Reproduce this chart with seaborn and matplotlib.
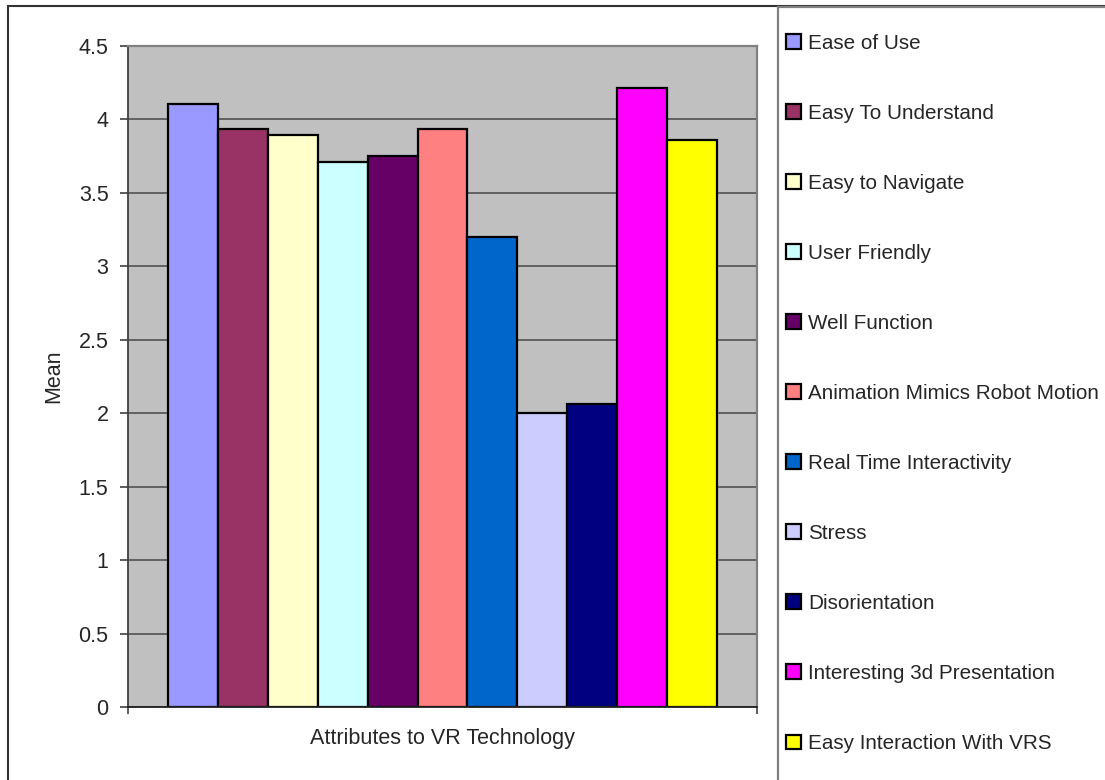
import matplotlib
matplotlib.use("Agg")
import matplotlib.pyplot as plt
from matplotlib.patches import Rectangle
import seaborn as sns
import pandas as pd

# Survey results: mean rating per attribute of the VR technology
attributes = [
    "Ease of Use",
    "Easy To Understand",
    "Easy to Navigate",
    "User Friendly",
    "Well Function",
    "Animation Mimics Robot Motion",
    "Real Time Interactivity",
    "Stress",
    "Disorientation",
    "Interesting 3d Presentation",
    "Easy Interaction With VRS",
]
means = [4.10, 3.93, 3.89, 3.71, 3.75, 3.93, 3.20, 2.00, 2.06, 4.21, 3.86]
colors = [
    "#9999FF", "#993366", "#FFFFCC", "#CCFFFF", "#660066", "#FF8080",
    "#0066CC", "#CCCCFF", "#000080", "#FF00FF", "#FFFF00",
]
y_ticks = [0, 0.5, 1, 1.5, 2, 2.5, 3, 3.5, 4, 4.5]
group_name = "Attributes to VR Technology"

df = pd.DataFrame({"group": [group_name] * len(attributes),
                   "attribute": attributes, "mean": means})

sns.set_style("white")
plt.rcParams["font.family"] = ["Liberation Sans", "DejaVu Sans"]
FS = 15.5
LEG_FS = 14.9

W, H = 1105, 780
fig = plt.figure(figsize=(W / 100, H / 100), dpi=100)
fig.patch.set_facecolor("white")

# plot area in pixel terms
left, right, top, bottom = 128, 757, 45.7, 707
ax = fig.add_axes([left / W, 1 - bottom / H, (right - left) / W, (bottom - top) / H])
ax.set_facecolor("#C0C0C0")

sns.barplot(data=df, x="group", y="mean", hue="attribute",
            hue_order=attributes, palette=colors, width=0.874,
            edgecolor="black", linewidth=1.6, saturation=1, ax=ax,
            errorbar=None, legend=True)

ax.set_ylim(0, 4.5)
ax.set_xlim(-0.5, 0.5)
ax.set_yticks(y_ticks)
ax.set_yticklabels([f"{t:g}" for t in y_ticks], fontsize=FS)
ax.set_xticks([-0.5, 0.5])
ax.set_xticklabels(["", ""])
ax.tick_params(axis="y", direction="out", length=6, width=1.2, color="#404040",
               pad=8, left=True)
ax.tick_params(axis="x", direction="out", length=5, width=1.2, color="#404040",
               bottom=True)

ax.yaxis.grid(True, color="#5a5a5a", linewidth=1.3)
ax.set_axisbelow(True)

for side in ("top", "right"):
    ax.spines[side].set_visible(True)
    ax.spines[side].set_color("#808080")
    ax.spines[side].set_linewidth(1.6)
ax.spines["left"].set_color("#404040")
ax.spines["left"].set_linewidth(1.3)
ax.spines["bottom"].set_color("#202020")
ax.spines["bottom"].set_linewidth(1.3)

ax.set_ylabel("Mean", fontsize=FS)
ax.yaxis.set_label_coords((64 - left) / (right - left), 0.5)
ax.set_xlabel(group_name, fontsize=FS)
ax.xaxis.set_label_coords(0.5, -(728 - bottom) / (bottom - top))

# legend on the right
handles, labels = ax.get_legend_handles_labels()
ax.get_legend().remove()
leg = fig.legend(handles, labels, loc="upper left",
                 bbox_to_anchor=(786 / W, 1 - 34 / H),
                 frameon=False, fontsize=LEG_FS, borderpad=0, borderaxespad=0,
                 handlelength=0.72, handleheight=0.72, handletextpad=0.34,
                 labelspacing=2.465)
for h in leg.legend_handles:
    h.set_edgecolor("black")
    h.set_linewidth(1.6)

# chart frame and legend frame
fig.patches.append(Rectangle((8 / W, -0.1), 1.2, 1 - 6 / H + 0.1,
                             transform=fig.transFigure, fill=False,
                             edgecolor="#333333", linewidth=1.5))
fig.patches.append(Rectangle((778 / W, -0.1), 1.2, 1 - 7 / H + 0.1,
                             transform=fig.transFigure, fill=False,
                             edgecolor="#808080", linewidth=1.6))

fig.savefig("out.png", dpi=100)
